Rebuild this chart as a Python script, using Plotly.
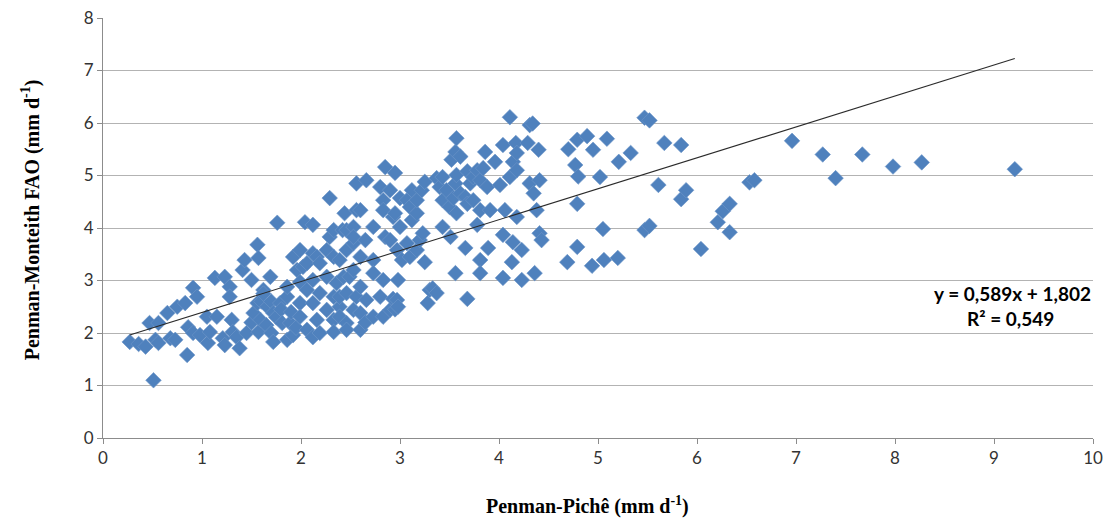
import plotly.graph_objects as go

# Data (Penman-Piché vs Penman-Monteith FAO, mm/d)
piche = [
    0.27, 0.36, 0.43, 0.47, 0.51, 0.53, 0.56, 0.56, 0.65, 0.68, 0.73, 0.75, 0.83, 0.85, 0.86, 0.91,
    0.91, 0.95, 0.98, 1.05, 1.06, 1.08, 1.13, 1.15, 1.21, 1.23, 1.23, 1.28, 1.28, 1.30, 1.31, 1.35,
    1.38, 1.41, 1.43, 1.45, 1.50, 1.50, 1.52, 1.56, 1.56, 1.57, 1.57, 1.59, 1.60, 1.62, 1.62, 1.65,
    1.66, 1.69, 1.70, 1.70, 1.72, 1.72, 1.75, 1.76, 1.79, 1.80, 1.81, 1.86, 1.86, 1.86, 1.89, 1.90,
    1.92, 1.92, 1.95, 1.96, 1.99, 1.99, 1.99, 1.99, 2.02, 2.04, 2.06, 2.06, 2.06, 2.12, 2.12, 2.12,
    2.12, 2.12, 2.16, 2.16, 2.19, 2.19, 2.19, 2.26, 2.26, 2.26, 2.29, 2.29, 2.33, 2.33, 2.33, 2.33,
    2.33, 2.36, 2.39, 2.39, 2.39, 2.39, 2.42, 2.43, 2.44, 2.46, 2.46, 2.46, 2.46, 2.46, 2.49, 2.53,
    2.53, 2.53, 2.53, 2.53, 2.56, 2.56, 2.56, 2.60, 2.60, 2.60, 2.60, 2.60, 2.65, 2.65, 2.66, 2.66,
    2.73, 2.73, 2.73, 2.73, 2.80, 2.80, 2.83, 2.83, 2.83, 2.83, 2.85, 2.85, 2.90, 2.90, 2.90, 2.93,
    2.93, 2.95, 2.95, 2.95, 2.97, 2.97, 2.98, 2.98, 3.00, 3.00, 3.02, 3.07, 3.07, 3.10, 3.10, 3.12,
    3.12, 3.17, 3.17, 3.17, 3.20, 3.22, 3.23, 3.25, 3.25, 3.28, 3.30, 3.33, 3.37, 3.37, 3.40, 3.43,
    3.43, 3.43, 3.47, 3.50, 3.51, 3.52, 3.54, 3.56, 3.56, 3.56, 3.57, 3.57, 3.57, 3.61, 3.61, 3.66,
    3.66, 3.68, 3.68, 3.68, 3.71, 3.74, 3.74, 3.78, 3.78, 3.81, 3.81, 3.81, 3.81, 3.84, 3.86, 3.88,
    3.89, 3.91, 3.96, 4.01, 4.04, 4.04, 4.04, 4.06, 4.11, 4.11, 4.13, 4.14, 4.14, 4.17, 4.18, 4.18,
    4.18, 4.23, 4.23, 4.29, 4.31, 4.31, 4.34, 4.35, 4.36, 4.38, 4.40, 4.41, 4.41, 4.43, 4.69, 4.70,
    4.77, 4.79, 4.80, 4.79, 4.79, 4.89, 4.95, 4.94, 5.02, 5.05, 5.06, 5.09, 5.20, 5.21, 5.33, 5.47,
    5.52, 5.47, 5.52, 5.61, 5.67, 5.84, 5.84, 5.89, 6.04, 6.21, 6.26, 6.33, 6.33, 6.53, 6.58, 6.96,
    7.27, 7.40, 7.67, 7.98, 8.27, 9.21,
]
fao = [
    1.83, 1.79, 1.74, 2.19, 1.10, 1.87, 2.19, 1.81, 2.38, 1.90, 1.87, 2.50, 2.57, 1.58, 2.11, 2.86,
    2.00, 2.69, 1.96, 2.31, 1.81, 2.02, 3.05, 2.31, 1.90, 3.07, 1.77, 2.88, 2.69, 2.25, 2.02, 1.92,
    1.71, 3.20, 3.39, 2.00, 3.01, 2.20, 2.38, 3.68, 2.57, 3.43, 2.02, 2.25, 2.60, 2.82, 2.75, 2.15,
    2.50, 3.07, 2.00, 2.60, 1.83, 2.38, 2.30, 4.10, 2.57, 2.45, 2.19, 2.69, 2.88, 1.87, 2.19, 2.40,
    1.96, 3.45, 2.10, 3.20, 2.97, 2.57, 2.31, 3.58, 3.26, 4.11, 3.33, 2.82, 2.06, 4.06, 3.52, 3.01,
    2.57, 1.92, 3.45, 2.25, 3.33, 2.76, 2.00, 3.58, 3.07, 2.44, 4.57, 3.83, 3.96, 3.45, 2.69, 2.25,
    2.02, 2.95, 2.50, 3.39, 2.69, 2.31, 3.96, 3.07, 4.28, 3.58, 2.76, 2.19, 2.06, 3.96, 3.07, 3.71,
    2.44, 4.02, 3.83, 3.20, 4.85, 4.34, 2.69, 4.34, 3.45, 2.88, 2.38, 2.06, 3.77, 2.20, 4.91, 2.63,
    4.02, 3.39, 3.14, 2.31, 4.78, 2.69, 4.53, 4.34, 3.01, 2.31, 5.16, 3.83, 4.72, 3.77, 2.44, 4.21,
    2.65, 5.05, 4.28, 2.45, 3.58, 2.63, 3.01, 2.50, 4.57, 4.02, 3.39, 3.71, 4.53, 4.40, 3.45, 4.72,
    4.15, 4.28, 4.53, 3.58, 3.77, 4.72, 3.90, 4.88, 3.35, 2.57, 2.82, 2.85, 4.95, 2.76, 4.78, 4.97,
    4.53, 4.02, 4.72, 4.40, 3.83, 5.30, 4.57, 5.45, 4.85, 3.14, 5.71, 5.01, 4.28, 5.36, 4.66, 4.59,
    3.62, 5.08, 4.46, 2.65, 4.85, 4.97, 4.53, 5.10, 4.06, 4.91, 4.34, 3.39, 3.14, 5.14, 5.45, 4.78,
    3.62, 4.34, 5.26, 4.82, 5.58, 3.87, 3.05, 4.34, 6.11, 4.97, 3.35, 5.26, 3.73, 5.62, 5.43, 5.10,
    4.21, 3.58, 3.01, 5.62, 5.96, 4.85, 5.99, 4.66, 3.14, 4.34, 5.49, 4.91, 3.90, 3.77, 3.35, 5.50,
    5.20, 5.68, 4.98, 4.46, 3.64, 5.75, 5.49, 3.28, 4.97, 3.98, 3.39, 5.70, 3.43, 5.26, 5.43, 6.10,
    6.05, 3.96, 4.04, 4.82, 5.62, 5.58, 4.55, 4.72, 3.60, 4.11, 4.32, 4.46, 3.92, 4.87, 4.91, 5.66,
    5.40, 4.95, 5.40, 5.17, 5.25, 5.12,
]

# Linear trendline as printed on the chart
slope = 0.589
intercept = 1.802
equation_text = "y = 0,589x + 1,802"
r2_text = "R² = 0,549"

x_ticks = [0, 1, 2, 3, 4, 5, 6, 7, 8, 9, 10]
y_ticks = [0, 1, 2, 3, 4, 5, 6, 7, 8]

x_title = "<b>Penman-Pichê (mm d<sup>-1</sup>)</b>"
y_title = "<b>Penman-Monteith FAO (mm d<sup>-1</sup>)</b>"

fig = go.Figure()

fig.add_trace(go.Scatter(
    x=piche, y=fao, mode="markers",
    marker=dict(symbol="diamond", size=12, color="#4F81BD",
                line=dict(width=0.6, color="#6D95C8")),
    showlegend=False, hoverinfo="x+y",
))

x0, x1 = min(piche), max(piche)
fig.add_trace(go.Scatter(
    x=[x0, x1], y=[slope * x0 + intercept, slope * x1 + intercept],
    mode="lines", line=dict(color="#2b2b2b", width=1.1),
    showlegend=False, hoverinfo="skip",
))

axis_common = dict(
    showline=True, linecolor="#8c8c8c", linewidth=1,
    ticks="outside", ticklen=5, tickcolor="#8c8c8c", tickwidth=1,
    tickfont=dict(family="Lato, Open Sans, sans-serif", size=17, color="#333333"),
    zeroline=False, automargin=False,
)

fig.update_xaxes(range=[0, 10], tickvals=x_ticks, showgrid=False, **axis_common)
fig.update_yaxes(range=[0, 8], tickvals=y_ticks, showgrid=True,
                 gridcolor="#b3b3b3", gridwidth=1, **axis_common)

fig.update_layout(
    width=1106, height=519, autosize=False,
    margin=dict(l=103, r=13, t=18, b=81),
    plot_bgcolor="white", paper_bgcolor="white",
    annotations=[
        dict(text=x_title, xref="paper", yref="paper", x=0.489, y=-0.16,
             xanchor="center", yanchor="middle", showarrow=False,
             font=dict(family="Liberation Serif, Times New Roman, serif", size=20,
                       color="#000000")),
        dict(text=y_title, xref="paper", yref="paper", x=-0.073, y=0.52,
             xanchor="center", yanchor="middle", showarrow=False, textangle=-90,
             font=dict(family="Liberation Serif, Times New Roman, serif", size=20,
                       color="#000000")),
        dict(text="<b>" + equation_text + "</b>", xref="x", yref="y", x=9.19, y=2.76,
             xanchor="center", yanchor="middle", showarrow=False,
             font=dict(family="Lato, Open Sans, sans-serif", size=19, color="#000000")),
        dict(text="<b>" + r2_text + "</b>", xref="x", yref="y", x=9.17, y=2.27,
             xanchor="center", yanchor="middle", showarrow=False,
             font=dict(family="Lato, Open Sans, sans-serif", size=19, color="#000000")),
    ],
)

fig.write_html("out.html", config={"displayModeBar": False},
               post_script="document.body.style.margin='0';")
